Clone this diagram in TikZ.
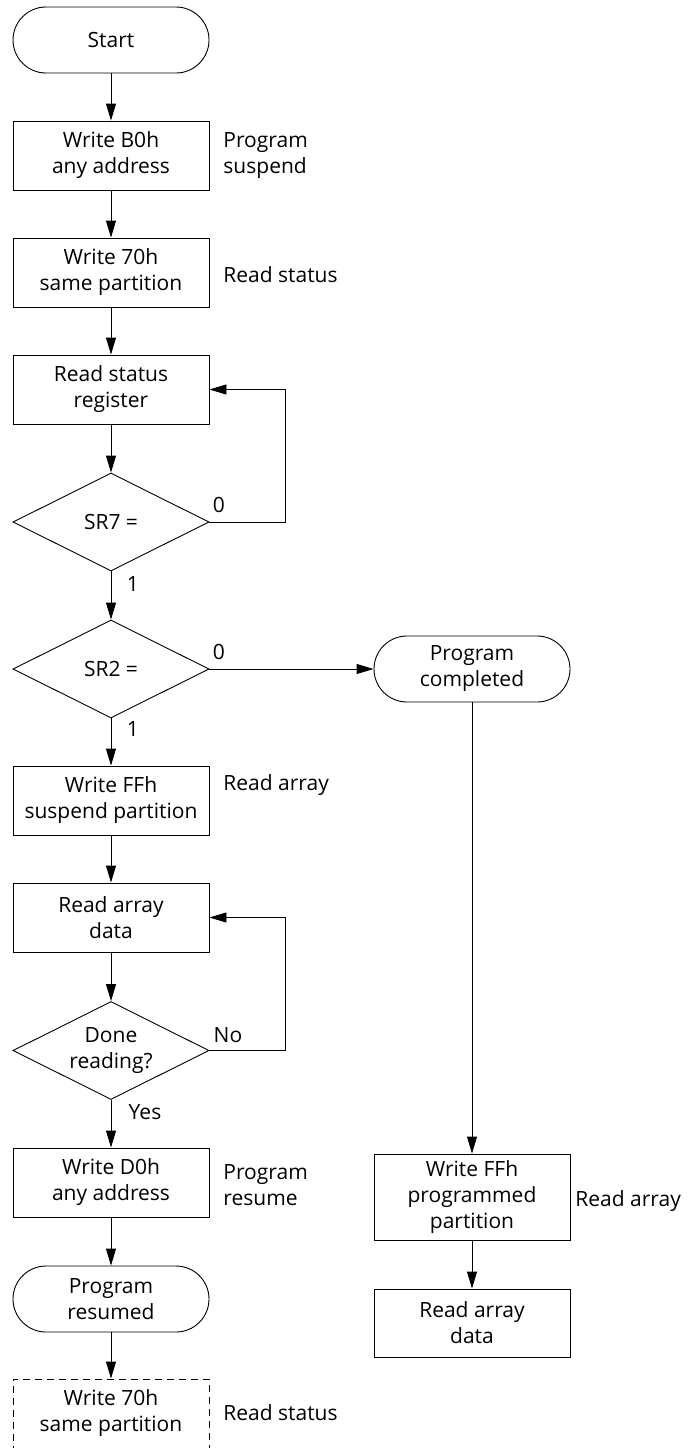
\documentclass[tikz,border=0pt]{standalone}
\usepackage{fontspec}
\setmainfont{Open Sans}
\usetikzlibrary{shapes.geometric,arrows.meta}
\begin{document}
\begin{tikzpicture}[x=1pt,y=-1pt,
  font=\fontsize{21}{26}\selectfont,
  every node/.style={inner sep=0pt},
  line width=0.9pt,
  boxst/.style={draw,rectangle,minimum width=196pt,minimum height=69pt,align=center},
  termst/.style={draw,rectangle,rounded corners=33pt,minimum width=196pt,minimum height=66pt,align=center},
  decst/.style={draw,diamond,minimum width=196pt,minimum height=98pt,align=center},
  side/.style={anchor=west,align=left},
  lbl/.style={anchor=center},
  arr/.style={-{Triangle[length=17pt,width=10pt]}}
]
\useasboundingbox (0,0) rectangle (696,1448);
% left column
\node[termst] (start) at (111,40) {Start};
\node[boxst] (b1) at (111,155.5) {Write B0h\\any address};
\node[boxst] (b2) at (111,272.5) {Write 70h\\same partition};
\node[boxst] (b3) at (111,389.5) {Read status\\register};
\node[decst] (d1) at (111,522) {SR7 =};
\node[decst] (d2) at (111,669) {SR2 =};
\node[boxst] (b4) at (111,800.5) {Write FFh\\suspend partition};
\node[boxst] (b5) at (111,917.5) {Read array\\data};
\node[decst] (d3) at (111,1050.5) {};
\node[align=center] (d3t) at (d3.center) {Done\\reading?};
\node[boxst] (b6) at (111,1182.5) {Write D0h\\any address};
\node[termst] (res) at (111,1299) {Program\\resumed};
\node[boxst,dashed,dash pattern=on 7pt off 5pt] (b7) at (111,1413.5) {Write 70h\\same partition};
% right column
\node[termst] (pc) at (472,669) {Program\\completed};
\node[boxst,minimum height=86pt] (r1) at (472,1197) {Write FFh\\programmed\\partition};
\node[boxst,minimum height=68pt] (r2) at (472,1323) {Read array\\data};
% side labels
\node[side] (s1) at (223,155.5) {Program\\suspend};
\node[side] (s2) at (223,275) {Read status};
\node[side] (s3) at (223,785) {Read array};
\node[side] (s4) at (223,1185) {Program\\resume};
\node[side] (s5) at (223,1413) {Read status};
\node[side] (s6) at (575,1201) {Read array};
% branch labels
\node[lbl] (l0a) at (219,505) {0};
\node[lbl] (l1a) at (133,584) {1};
\node[lbl] (l0b) at (219,652) {0};
\node[lbl] (l1b) at (133,729) {1};
\node[lbl] (lno) at (228,1035) {No};
\node[lbl] (lyes) at (145,1112) {Yes};
% coordinates for loops
\coordinate (c1) at (285,522);
\coordinate (c2) at (285,389.5);
\coordinate (c3) at (285,1050.5);
\coordinate (c4) at (285,917.5);
% connectors
\draw[arr] (start) -- (b1);
\draw[arr] (b1) -- (b2);
\draw[arr] (b2) -- (b3);
\draw[arr] (b3) -- (d1);
\draw[arr] (d1) -- (d2);
\draw[arr] (d1.east) -- (c1) -- (c2) -- (b3.east);
\draw[arr] (d2) -- (b4);
\draw[arr] (d2.east) -- (pc.west);
\draw[arr] (b4) -- (b5);
\draw[arr] (b5) -- (d3);
\draw[arr] (d3.east) -- (c3) -- (c4) -- (b5.east);
\draw[arr] (d3) -- (b6);
\draw[arr] (b6) -- (res);
\draw[arr] (res) -- (b7);
\draw[arr] (pc) -- (r1);
\draw[arr] (r1) -- (r2);
\end{tikzpicture}
\end{document}
